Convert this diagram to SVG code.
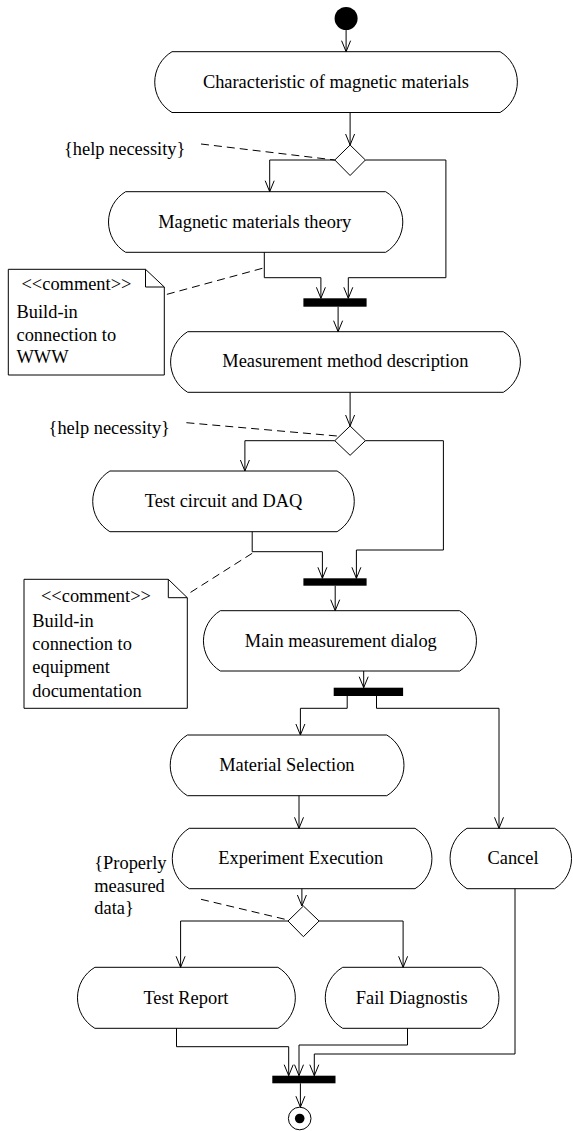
<svg xmlns="http://www.w3.org/2000/svg" width="573" height="1131" viewBox="0 0 573 1131">
<style>
.act{fill:#fff;stroke:#000;stroke-width:1}
.t{font-family:"Liberation Serif","Times New Roman",serif;font-size:18.4px;fill:#000}
.m{text-anchor:middle}
.con{fill:none;stroke:#000;stroke-width:1}
.dash{fill:none;stroke:#000;stroke-width:1;stroke-dasharray:8,5}
.bar{fill:#000}
.note{fill:#fff;stroke:#000;stroke-width:1}
</style>
<defs>
<marker id="ah" markerUnits="userSpaceOnUse" markerWidth="14" markerHeight="12" refX="11" refY="5" orient="auto" viewBox="0 0 14 12" overflow="visible">
<path d="M0,0.5 L11,5 L0,9.5" fill="none" stroke="#000" stroke-width="1"/>
</marker>
</defs>

<g id="start"><circle cx="346.1" cy="18.5" r="11.5" fill="#000"/></g>

<g id="a1"><path class="act" d="M172,51.7 H500.1 A35.4,35.4 0 0 1 500.1,112.5 H172 A35.4,35.4 0 0 1 172,51.7 Z"/><text class="t m" x="335.9" y="88.3">Characteristic of magnetic materials</text></g>

<g id="dec1"><path class="act" d="M350.1,145 L365.4,160 L350.1,175.5 L334.8,160 Z"/></g>
<g id="g1"><text class="t" x="64" y="155">{help necessity}</text></g>

<g id="a2"><path class="act" d="M125.6,191.7 H385.7 A35.4,35.4 0 0 1 385.7,252.3 H125.6 A35.4,35.4 0 0 1 125.6,191.7 Z"/><text class="t m" x="254.7" y="228.3">Magnetic materials theory</text></g>

<g id="note1"><path class="note" d="M8.3,269.3 H145.5 L164.3,287 V375 H8.3 Z"/><path class="con" d="M145.5,269.3 V287 H164.3"/>
<text class="t" x="21.5" y="289.5">&lt;&lt;comment&gt;&gt;</text>
<text class="t" x="16.5" y="318">Build-in</text>
<text class="t" x="16.5" y="341.3">connection to</text>
<text class="t" x="16.5" y="362.7">WWW</text></g>

<g id="bar1"><rect class="bar" x="303.4" y="298.3" width="63.2" height="8.4"/></g>

<g id="a3"><path class="act" d="M187.7,331.7 H503.3 A35.4,35.4 0 0 1 503.3,392.3 H187.7 A35.4,35.4 0 0 1 187.7,331.7 Z"/><text class="t m" x="345.4" y="366.7">Measurement method description</text></g>

<g id="dec2"><path class="act" d="M350.1,426 L365.4,440.7 L350.1,455.3 L334.8,440.7 Z"/></g>
<g id="g2"><text class="t" x="48.6" y="434">{help necessity}</text></g>

<g id="a4"><path class="act" d="M109.9,471 H337.1 A35.4,35.4 0 0 1 337.1,531.7 H109.9 A35.4,35.4 0 0 1 109.9,471 Z"/><text class="t m" x="223.5" y="506.7">Test circuit and DAQ</text></g>

<g id="note2"><path class="note" d="M24,579.3 H168.3 L187.3,597.7 V708.3 H24 Z"/><path class="con" d="M168.3,579.3 V597.7 H187.3"/>
<text class="t" x="41" y="601.7">&lt;&lt;comment&gt;&gt;</text>
<text class="t" x="32.3" y="626.7">Build-in</text>
<text class="t" x="32.3" y="650">connection to</text>
<text class="t" x="32.3" y="673.3">equipment</text>
<text class="t" x="32.3" y="696.7">documentation</text></g>

<g id="bar2"><rect class="bar" x="303.4" y="578.3" width="63.2" height="7.4"/></g>

<g id="a5"><path class="act" d="M220.3,610.7 H459.6 A35.4,35.4 0 0 1 459.6,671 H220.3 A35.4,35.4 0 0 1 220.3,610.7 Z"/><text class="t m" x="340.8" y="646.7">Main measurement dialog</text></g>

<g id="bar3"><rect class="bar" x="333.7" y="687.7" width="69.4" height="8.3"/></g>

<g id="a6"><path class="act" d="M187.4,735 H386.8 A35.4,35.4 0 0 1 386.8,795.7 H187.4 A35.4,35.4 0 0 1 187.4,735 Z"/><text class="t m" x="286.9" y="771">Material Selection</text></g>

<g id="a7"><path class="act" d="M189.2,828.3 H415 A35.4,35.4 0 0 1 415,888.7 H189.2 A35.4,35.4 0 0 1 189.2,828.3 Z"/><text class="t m" x="300.8" y="864">Experiment Execution</text></g>

<g id="a8"><path class="act" d="M467,828.3 H554.6 A35.4,35.4 0 0 1 554.6,888.7 H467 A35.4,35.4 0 0 1 467,828.3 Z"/><text class="t m" x="513" y="863.5">Cancel</text></g>

<g id="g3"><text class="t" x="94.3" y="869.3">{Properly</text><text class="t" x="94.3" y="892.3">measured</text><text class="t" x="94.3" y="914">data}</text></g>

<g id="dec3"><path class="act" d="M303.4,906 L319.1,921 L303.4,936.7 L288,921 Z"/></g>

<g id="a9"><path class="act" d="M94.9,967.3 H277.9 A35.4,35.4 0 0 1 277.9,1028.3 H94.9 A35.4,35.4 0 0 1 94.9,967.3 Z"/><text class="t m" x="185.9" y="1004">Test Report</text></g>

<g id="a10"><path class="act" d="M342.7,967.3 H481.5 A35.4,35.4 0 0 1 481.5,1028.3 H342.7 A35.4,35.4 0 0 1 342.7,967.3 Z"/><text class="t m" x="411.7" y="1004">Fail Diagnostis</text></g>

<g id="bar4"><rect class="bar" x="272.3" y="1075.7" width="63.2" height="7.6"/></g>

<g id="end"><circle cx="299.7" cy="1118.5" r="11.3" fill="#fff" stroke="#000"/><circle cx="299.7" cy="1118.5" r="4.8" fill="#000"/></g>

<g id="connectors">
<path class="con" marker-end="url(#ah)" d="M346.1,30 V51.7"/>
<path class="con" marker-end="url(#ah)" d="M350.1,112.5 V145"/>
<path class="con" marker-end="url(#ah)" d="M334.8,160 H269.7 V191.7"/>
<path class="con" marker-end="url(#ah)" d="M365.4,160 H445.9 V277.7 H348.3 V298.3"/>
<path class="con" marker-end="url(#ah)" d="M264.3,252.3 V277.7 H320.9 V298.3"/>
<path class="con" marker-end="url(#ah)" d="M338.1,306.7 V331.7"/>
<path class="con" marker-end="url(#ah)" d="M350.1,392.3 V426"/>
<path class="con" marker-end="url(#ah)" d="M334.8,440.7 H244.9 V471"/>
<path class="con" marker-end="url(#ah)" d="M365.4,440.7 H443.4 V550 H356.4 V578.3"/>
<path class="con" marker-end="url(#ah)" d="M252.2,531.7 V551.7 H322.4 V578.3"/>
<path class="con" marker-end="url(#ah)" d="M335.2,585.7 V610.7"/>
<path class="con" marker-end="url(#ah)" d="M363.7,671 V687.7"/>
<path class="con" marker-end="url(#ah)" d="M347.2,696 V708.3 H300.4 V735"/>
<path class="con" marker-end="url(#ah)" d="M376.5,696 V708.3 H499 V828.3"/>
<path class="con" marker-end="url(#ah)" d="M299,795.7 V828.3"/>
<path class="con" marker-end="url(#ah)" d="M301.9,888.7 V906"/>
<path class="con" marker-end="url(#ah)" d="M288,921 H180.6 V967.3"/>
<path class="con" marker-end="url(#ah)" d="M319.1,921 H403.1 V967.3"/>
<path class="con" marker-end="url(#ah)" d="M176.5,1028.3 V1046.7 H288.7 V1075.7"/>
<path class="con" marker-end="url(#ah)" d="M407.5,1028.3 V1045 H299 V1075.7"/>
<path class="con" marker-end="url(#ah)" d="M515,888.7 V1054 H314.3 V1075.7"/>
<path class="con" marker-end="url(#ah)" d="M300.4,1083.3 V1107.2"/>
<path class="dash" d="M201,144 L334.8,160"/>
<path class="dash" d="M262.4,268.3 L164.5,295"/>
<path class="dash" d="M186.4,422.7 L337,436"/>
<path class="dash" d="M252.2,553.3 L186.4,595"/>
<path class="dash" d="M201,899.3 L288,920"/>
</g>
</svg>
